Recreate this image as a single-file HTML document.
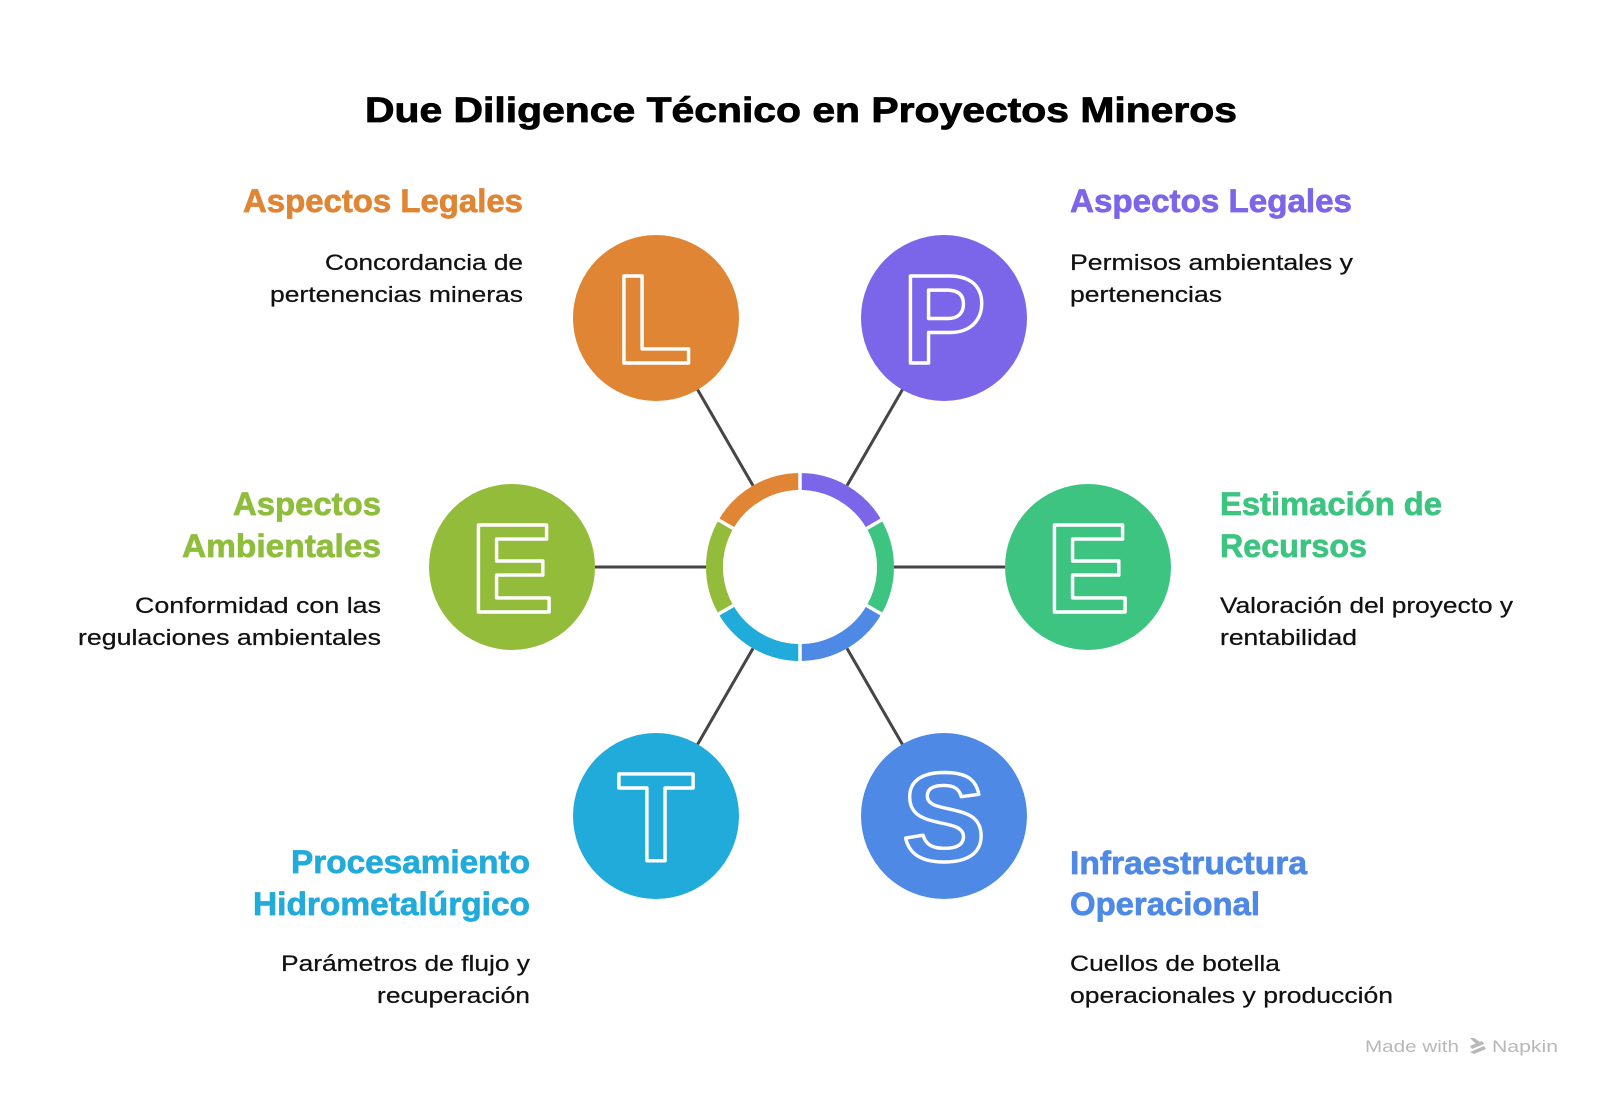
<!DOCTYPE html>
<html>
<head>
<meta charset="utf-8">
<style>
  html,body{margin:0;padding:0;background:#fff;}
  body{width:1600px;height:1096px;overflow:hidden;}
  svg{display:block;}
  .t{font-family:"Liberation Sans",Arial,sans-serif;}
  .h{font-family:"Liberation Sans",Arial,sans-serif;font-weight:bold;font-size:32px;stroke-width:0.7;}
  .d{font-family:"Liberation Sans",Arial,sans-serif;font-size:22.5px;fill:#111;stroke:#111;stroke-width:0.25;}
  .let{font-family:"Liberation Sans",Arial,sans-serif;font-weight:bold;font-size:126px;fill:none;stroke:#fff;stroke-width:3.4;stroke-linejoin:round;}
</style>
</head>
<body>
<svg width="1600" height="1096" viewBox="0 0 1600 1096" xmlns="http://www.w3.org/2000/svg">
  <rect width="1600" height="1096" fill="#fff"/>

  <!-- Title -->
  <text class="t" x="365" y="122" font-size="35" font-weight="bold" fill="#000" stroke="#000" stroke-width="0.8" textLength="872" lengthAdjust="spacingAndGlyphs">Due Diligence Técnico en Proyectos Mineros</text>

  <!-- Connectors -->
  <g stroke="#454545" stroke-width="3" stroke-linecap="butt">
    <line x1="753" y1="485.6" x2="697.5" y2="389.5"/>
    <line x1="847" y1="485.6" x2="902.5" y2="389.5"/>
    <line x1="706" y1="567" x2="595" y2="567"/>
    <line x1="894" y1="567" x2="1005" y2="567"/>
    <line x1="753" y1="648.4" x2="697.5" y2="744.5"/>
    <line x1="847" y1="648.4" x2="902.5" y2="744.5"/>
  </g>

  <!-- Center ring -->
  <g fill="none" stroke-width="17" stroke-linecap="butt">
    <path d="M800,481.5 A85.5,85.5 0 0 0 725.95,524.25" stroke="#DF8533"/>
    <path d="M874.05,524.25 A85.5,85.5 0 0 0 800,481.5" stroke="#7B66E9"/>
    <path d="M874.05,609.75 A85.5,85.5 0 0 0 874.05,524.25" stroke="#3DC481"/>
    <path d="M800,652.5 A85.5,85.5 0 0 0 874.05,609.75" stroke="#4F89E6"/>
    <path d="M725.95,609.75 A85.5,85.5 0 0 0 800,652.5" stroke="#21ABDB"/>
    <path d="M725.95,524.25 A85.5,85.5 0 0 0 725.95,609.75" stroke="#93BC3A"/>
  </g>
  <g stroke="#fff" stroke-width="3.5">
    <line x1="800" y1="490" x2="800" y2="468"/>
    <line x1="800" y1="644" x2="800" y2="666"/>
    <line x1="866.7" y1="528.5" x2="885.7" y2="517.5"/>
    <line x1="866.7" y1="605.5" x2="885.7" y2="616.5"/>
    <line x1="733.3" y1="528.5" x2="714.3" y2="517.5"/>
    <line x1="733.3" y1="605.5" x2="714.3" y2="616.5"/>
  </g>

  <!-- Outer circles -->
  <circle cx="656" cy="318" r="83" fill="#DF8533"/>
  <circle cx="944" cy="318" r="83" fill="#7B66E9"/>
  <circle cx="512" cy="567" r="83" fill="#93BC3A"/>
  <circle cx="1088" cy="567" r="83" fill="#3DC481"/>
  <circle cx="656" cy="816" r="83" fill="#21ABDB"/>
  <circle cx="944" cy="816" r="83" fill="#4F89E6"/>

  <!-- Letters -->
  <text class="let" x="654" y="363" text-anchor="middle">L</text>
  <text class="let" x="944" y="363" text-anchor="middle">P</text>
  <text class="let" x="512" y="612" text-anchor="middle">E</text>
  <text class="let" x="1088" y="612" text-anchor="middle">E</text>
  <text class="let" x="656" y="861" text-anchor="middle">T</text>
  <text class="let" x="944" y="861" text-anchor="middle">S</text>

  <!-- Top-left -->
  <text class="h" x="523" y="212" text-anchor="end" fill="#DF8533" stroke="#DF8533" textLength="280" lengthAdjust="spacingAndGlyphs">Aspectos Legales</text>
  <text class="d" x="523" y="270" text-anchor="end" textLength="198" lengthAdjust="spacingAndGlyphs">Concordancia de</text>
  <text class="d" x="523" y="302" text-anchor="end" textLength="253" lengthAdjust="spacingAndGlyphs">pertenencias mineras</text>

  <!-- Top-right -->
  <text class="h" x="1070" y="212" fill="#7B66E9" stroke="#7B66E9" textLength="282" lengthAdjust="spacingAndGlyphs">Aspectos Legales</text>
  <text class="d" x="1070" y="270" textLength="283" lengthAdjust="spacingAndGlyphs">Permisos ambientales y</text>
  <text class="d" x="1070" y="302" textLength="152" lengthAdjust="spacingAndGlyphs">pertenencias</text>

  <!-- Middle-left -->
  <text class="h" x="381" y="515" text-anchor="end" fill="#8FBD3C" stroke="#8FBD3C" textLength="148" lengthAdjust="spacingAndGlyphs">Aspectos</text>
  <text class="h" x="381" y="557" text-anchor="end" fill="#8FBD3C" stroke="#8FBD3C" textLength="199" lengthAdjust="spacingAndGlyphs">Ambientales</text>
  <text class="d" x="381" y="613" text-anchor="end" textLength="246" lengthAdjust="spacingAndGlyphs">Conformidad con las</text>
  <text class="d" x="381" y="645" text-anchor="end" textLength="303" lengthAdjust="spacingAndGlyphs">regulaciones ambientales</text>

  <!-- Middle-right -->
  <text class="h" x="1220" y="515" fill="#3DC481" stroke="#3DC481" textLength="222" lengthAdjust="spacingAndGlyphs">Estimación de</text>
  <text class="h" x="1220" y="557" fill="#3DC481" stroke="#3DC481" textLength="147" lengthAdjust="spacingAndGlyphs">Recursos</text>
  <text class="d" x="1220" y="613" textLength="293" lengthAdjust="spacingAndGlyphs">Valoración del proyecto y</text>
  <text class="d" x="1220" y="645" textLength="137" lengthAdjust="spacingAndGlyphs">rentabilidad</text>

  <!-- Bottom-left -->
  <text class="h" x="530" y="873" text-anchor="end" fill="#21ABDB" stroke="#21ABDB" textLength="239" lengthAdjust="spacingAndGlyphs">Procesamiento</text>
  <text class="h" x="530" y="915" text-anchor="end" fill="#21ABDB" stroke="#21ABDB" textLength="277" lengthAdjust="spacingAndGlyphs">Hidrometalúrgico</text>
  <text class="d" x="530" y="971" text-anchor="end" textLength="249" lengthAdjust="spacingAndGlyphs">Parámetros de flujo y</text>
  <text class="d" x="530" y="1003" text-anchor="end" textLength="153" lengthAdjust="spacingAndGlyphs">recuperación</text>

  <!-- Bottom-right -->
  <text class="h" x="1070" y="874" fill="#4F89E6" stroke="#4F89E6" textLength="237" lengthAdjust="spacingAndGlyphs">Infraestructura</text>
  <text class="h" x="1070" y="915" fill="#4F89E6" stroke="#4F89E6" textLength="190" lengthAdjust="spacingAndGlyphs">Operacional</text>
  <text class="d" x="1070" y="971" textLength="210" lengthAdjust="spacingAndGlyphs">Cuellos de botella</text>
  <text class="d" x="1070" y="1003" textLength="323" lengthAdjust="spacingAndGlyphs">operacionales y producción</text>

  <!-- Watermark -->
  <text class="t" x="1365" y="1052" font-size="17" fill="#b8b8b8" textLength="94" lengthAdjust="spacingAndGlyphs">Made with</text>
  <g fill="#b8b8b8">
    <polygon points="1470,1038 1474,1038 1480,1042 1476,1044"/>
    <polygon points="1470,1046 1482,1041 1484,1044 1472,1049"/>
    <polygon points="1470,1052 1484,1046 1486,1049 1474,1054"/>
  </g>
  <text class="t" x="1492" y="1052" font-size="17" fill="#b8b8b8" textLength="66" lengthAdjust="spacingAndGlyphs">Napkin</text>
</svg>
</body>
</html>
